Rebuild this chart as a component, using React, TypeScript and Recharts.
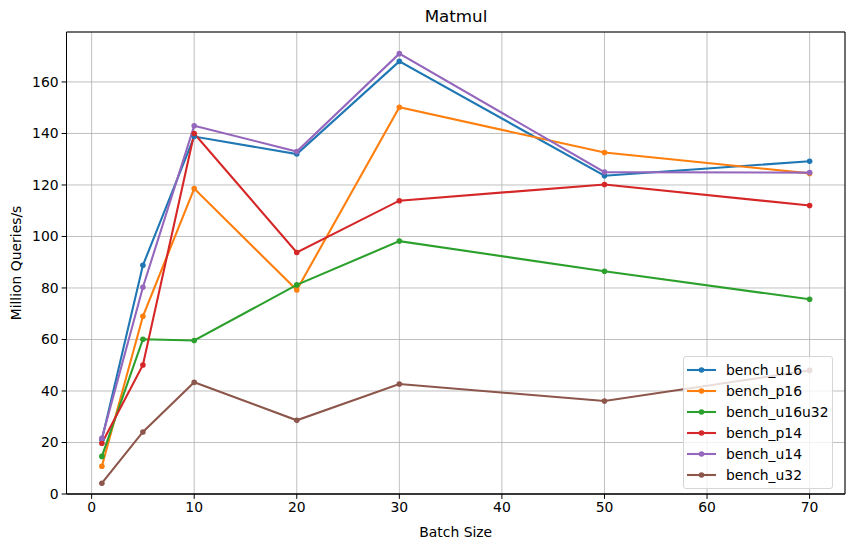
import React from "react";
import {
  LineChart,
  Line,
  XAxis,
  YAxis,
  CartesianGrid,
  ReferenceArea,
} from "recharts";

// batch sizes on the x axis
const batchSizes = [1, 5, 10, 20, 30, 50, 70];

// million queries per second
const benchU16 = [21.2, 88.8, 138.8, 132.0, 168.0, 123.6, 129.2];
const benchP16 = [10.8, 69.0, 118.6, 79.2, 150.2, 132.6, 124.5];
const benchU16u32 = [14.6, 60.1, 59.6, 81.2, 98.2, 86.5, 75.6];
const benchP14 = [19.7, 50.1, 140.0, 93.8, 113.9, 120.2, 112.0];
const benchU14 = [21.6, 80.3, 143.0, 133.0, 171.0, 125.0, 124.8];
const benchU32 = [4.2, 24.1, 43.4, 28.6, 42.7, 36.1, 48.0];

const xTicks = [0, 10, 20, 30, 40, 50, 60, 70];
const yTicks = [0, 20, 40, 60, 80, 100, 120, 140, 160];

const series = [
  { key: "bench_u16", values: benchU16, color: "#1f77b4" },
  { key: "bench_p16", values: benchP16, color: "#ff7f0e" },
  { key: "bench_u16u32", values: benchU16u32, color: "#2ca02c" },
  { key: "bench_p14", values: benchP14, color: "#d62728" },
  { key: "bench_u14", values: benchU14, color: "#9467bd" },
  { key: "bench_u32", values: benchU32, color: "#8c564b" },
];

const data = batchSizes.map((b, i) => {
  const row: Record<string, number> = { batch: b };
  series.forEach((s) => {
    row[s.key] = s.values[i];
  });
  return row;
});

const FONT = "'DejaVu Sans', sans-serif";
const X_DOMAIN: [number, number] = [-2.45, 73.45];
const Y_DOMAIN: [number, number] = [0, 179.4];

function LegendBox() {
  return (
    <div
      style={{
        position: "absolute",
        left: 683,
        top: 356,
        width: 150,
        boxSizing: "border-box",
        background: "rgba(255,255,255,0.8)",
        border: "1px solid #d6d6d6",
        borderRadius: 3,
        padding: "2px 0 3px 2px",
        fontFamily: FONT,
        fontSize: 13.9,
        color: "#000",
      }}
    >
      {series.map((s) => (
        <div
          key={s.key}
          style={{ display: "flex", alignItems: "center", height: 21 }}
        >
          <svg width={40} height={10}>
            <line x1={1} y1={5} x2={30} y2={5} stroke={s.color} strokeWidth={2.1} />
            <circle cx={15.5} cy={5} r={2.8} fill={s.color} />
          </svg>
          <span>{s.key}</span>
        </div>
      ))}
    </div>
  );
}

export default function App() {
  return (
    <div
      style={{
        position: "absolute",
        left: 0,
        top: 0,
        width: 850,
        height: 547,
        background: "#fff",
        fontFamily: FONT,
      }}
    >
      <div
        style={{
          position: "absolute",
          left: 456,
          top: 6,
          transform: "translateX(-50%)",
          fontSize: 16.7,
          color: "#000",
          whiteSpace: "nowrap",
        }}
      >
        Matmul
      </div>
      <LineChart
        width={850}
        height={547}
        data={data}
        margin={{ top: 32, right: 5, bottom: 0, left: 0 }}
        style={{ fontFamily: FONT }}
      >
        <CartesianGrid stroke="#b0b0b0" strokeWidth={0.8} />
        <XAxis
          type="number"
          dataKey="batch"
          domain={X_DOMAIN}
          ticks={xTicks}
          allowDataOverflow
          height={53}
          stroke="#000"
          tickSize={4.9}
          tickMargin={3}
          tick={{ fill: "#000", fontSize: 13.9 }}
          label={{
            value: "Batch Size",
            position: "insideBottom",
            offset: 10,
            fill: "#000",
            fontSize: 13.9,
          }}
        />
        <YAxis
          type="number"
          domain={Y_DOMAIN}
          ticks={yTicks}
          allowDataOverflow
          width={66.5}
          stroke="#000"
          tickSize={4.9}
          tickMargin={3}
          tick={{ fill: "#000", fontSize: 13.9 }}
          label={{
            value: "Million Queries/s",
            angle: -90,
            position: "insideLeft",
            offset: 16,
            fill: "#000",
            fontSize: 13.9,
            style: { textAnchor: "middle" },
          }}
        />
        <ReferenceArea
          x1={X_DOMAIN[0]}
          x2={X_DOMAIN[1]}
          y1={Y_DOMAIN[0]}
          y2={Y_DOMAIN[1]}
          fill="none"
          stroke="#000"
          strokeWidth={1}
          ifOverflow="visible"
        />
        {series.map((s) => (
          <Line
            key={s.key}
            type="linear"
            dataKey={s.key}
            stroke={s.color}
            strokeWidth={2.1}
            dot={{ r: 2.8, fill: s.color, stroke: s.color, strokeWidth: 0 }}
            activeDot={false}
            isAnimationActive={false}
          />
        ))}
      </LineChart>
      <LegendBox />
    </div>
  );
}
